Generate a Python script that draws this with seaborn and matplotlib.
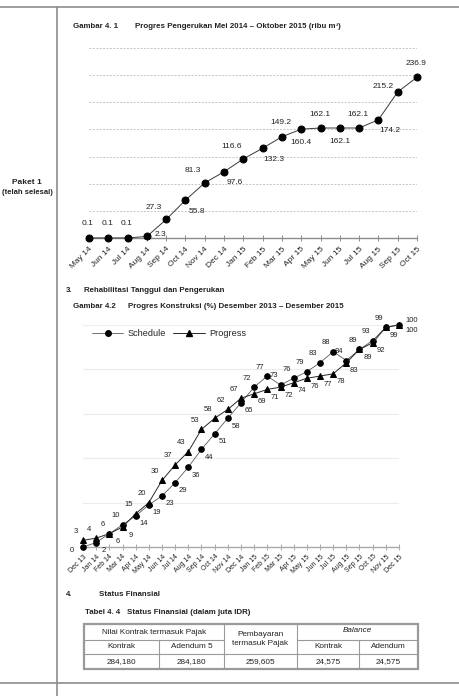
import numpy as np
import pandas as pd
import matplotlib
matplotlib.use("Agg")
import matplotlib.pyplot as plt
import seaborn as sns
from matplotlib.lines import Line2D

# data gambar 4.1 (ribu m3)
bulan_1 = ["May 14", "Jun 14", "Jul 14", "Aug 14", "Sep 14", "Oct 14", "Nov 14", "Dec 14",
           "Jan 15", "Feb 15", "Mar 15", "Apr 15", "May 15", "Jun 15", "Jul 15", "Aug 15",
           "Sep 15", "Oct 15"]
pengerukan = [0.1, 0.1, 0.1, 2.3, 27.3, 55.8, 81.3, 97.6, 116.6, 132.3, 149.2, 160.4,
              162.1, 162.1, 162.1, 174.2, 215.2, 236.9]

# data gambar 4.2 (%)
bulan_2 = ["Dec 13", "Jan 14", "Feb 14", "Mar 14", "Apr 14", "May 14", "Jun 14", "Jul 14",
           "Aug 14", "Sep 14", "Oct 14", "Nov 14", "Dec 14", "Jan 15", "Feb 15", "Mar 15",
           "Apr 15", "May 15", "Jun 15", "Jul 15", "Aug 15", "Sep 15", "Oct 15", "Nov 15",
           "Dec 15"]
schedule = [0, 2, 6, 10, 14, 19, 23, 29, 36, 44, 51, 58, 65, 72, 77, 73, 76, 79, 83, 88,
            84, 89, 93, 99, 100]
progress = [3, 4, 6, 9, 15, 20, 30, 37, 43, 53, 58, 62, 67, 69, 71, 72, 74, 76, 77, 78,
            83, 89, 92, 99, 100]

# tabel 4.4
kol_header = ["Kontrak", "Adendum 5", "Kontrak", "Adendum"]
nilai_tabel = ["284,180", "284,180", "259,605", "24,575", "24,575"]

# placering af labels i graf 1
pos1 = ["t", "t", "t", "r", "tl", "br", "tl", "br", "tl", "br", "t", "b", "t", "b", "t",
        "br", "l", "t"]
off_px = {"t": (-1, 14), "b": (0, -13), "tl": (-12, 12), "br": (11, -11),
          "r": (14, 2), "l": (-15, 5)}

W, H = 460, 696
sns.set_theme(style="white")
plt.rcParams["font.family"] = ["Liberation Sans Narrow", "Liberation Sans", "DejaVu Sans"]
txt = "#222222"
grå = "#8c8c8c"

fig = plt.figure(figsize=(W / 100, H / 100), dpi=100)

# side-lag i pixel koordinater
side = fig.add_axes([0, 0, 1, 1])
side.set_xlim(0, W)
side.set_ylim(H, 0)
side.axis("off")

side.plot([0, W], [7, 7], color=grå, lw=1.2)
side.plot([57, 57], [7, H], color=grå, lw=1.2)
side.plot([0, W], [683, 683], color=grå, lw=1.2)

side.text(27, 182, "Paket 1", ha="center", va="center", fontsize=6.0, fontweight="bold", color=txt)
side.text(27, 192, "(telah selesai)", ha="center", va="center", fontsize=5.5, fontweight="bold",
          color=txt)

def overskrift(x1, x2, y, a, b, fs=5.7):
    side.text(x1, y, a, ha="left", va="center", fontsize=fs, fontweight="bold", color=txt)
    side.text(x2, y, b, ha="left", va="center", fontsize=fs, fontweight="bold", color=txt)

overskrift(73, 135, 26, "Gambar 4. 1", "Progres Pengerukan Mei 2014 – Oktober 2015 (ribu m³)")
overskrift(66, 84, 291, "3.", "Rehabilitasi Tanggul dan Pengerukan")
overskrift(73, 128, 307, "Gambar 4.2", "Progres Konstruksi (%) Desember 2013 – Desember 2015")
overskrift(66, 99, 595, "4.", "Status Finansial")
overskrift(85, 127, 612, "Tabel 4. 4", "Status Finansial (dalam juta IDR)")

# tabel
tx = [84, 159, 224, 297, 359, 418]
ty = [624, 640, 654, 669]
lc = "#9a9a9a"
side.add_patch(plt.Rectangle((tx[0], ty[0]), tx[-1] - tx[0], ty[-1] - ty[0],
                             fill=False, ec=lc, lw=1.6))
side.plot([tx[0], tx[2]], [ty[1], ty[1]], color=lc, lw=0.8)
side.plot([tx[3], tx[5]], [ty[1], ty[1]], color=lc, lw=0.8)
side.plot([tx[0], tx[5]], [ty[2], ty[2]], color=lc, lw=0.8)
side.plot([tx[1], tx[1]], [ty[1], ty[3]], color=lc, lw=0.8)
side.plot([tx[2], tx[2]], [ty[0], ty[3]], color=lc, lw=0.8)
side.plot([tx[3], tx[3]], [ty[0], ty[3]], color=lc, lw=0.8)
side.plot([tx[4], tx[4]], [ty[1], ty[3]], color=lc, lw=0.8)

fs_t = 5.9
side.text((tx[0] + tx[2]) / 2, 632, "Nilai Kontrak termasuk Pajak", ha="center", va="center",
          fontsize=fs_t, color=txt)
side.text((tx[2] + tx[3]) / 2, 639, "Pembayaran\ntermasuk Pajak", ha="center", va="center",
          fontsize=fs_t, color=txt, linespacing=1.3)
side.text((tx[3] + tx[5]) / 2, 631, "Balance", ha="center", va="center", fontsize=fs_t,
          color=txt, style="italic")
for x, t in zip([(tx[0] + tx[1]) / 2, (tx[1] + tx[2]) / 2, (tx[3] + tx[4]) / 2,
                 (tx[4] + tx[5]) / 2], kol_header):
    side.text(x, 647, t, ha="center", va="center", fontsize=fs_t, color=txt)
for i, t in enumerate(nilai_tabel):
    side.text((tx[i] + tx[i + 1]) / 2, 661.5, t, ha="center", va="center", fontsize=fs_t, color=txt)

def px_ax(x0, x1, ytop, ybot):
    return [x0 / W, 1 - ybot / H, (x1 - x0) / W, (ybot - ytop) / H]

def pt(d):
    return (d[0] * 0.72, d[1] * 0.72)

# graf 1
ax1 = fig.add_axes(px_ax(89, 417, 48, 238))
df1 = pd.DataFrame({"pos": np.arange(len(bulan_1)), "nilai": pengerukan})
sns.lineplot(data=df1, x="pos", y="nilai", ax=ax1, color="#3a3a3a", lw=0.7, marker="o",
             markersize=5, markerfacecolor="black", markeredgecolor="black", clip_on=False,
             zorder=5)
ax1.set_xlim(0, len(bulan_1) - 1)
ax1.set_ylim(0, 280)
ax1.set_yticks(np.arange(40, 281, 40))
ax1.yaxis.grid(True, color="#c4c4c4", lw=0.7, ls=(0, (2, 1.5)))
ax1.tick_params(axis="y", left=False, labelleft=False)
ax1.set_xticks(df1["pos"])
ax1.set_xticklabels(bulan_1, rotation=45, ha="right", rotation_mode="anchor", fontsize=6.0,
                    color=txt)
ax1.tick_params(axis="x", bottom=True, direction="inout", length=5, width=0.7, color=grå,
                pad=3)
for s in ["top", "left", "right"]:
    ax1.spines[s].set_visible(False)
ax1.spines["bottom"].set_color(grå)
ax1.spines["bottom"].set_linewidth(1.0)
ax1.set_xlabel("")
ax1.set_ylabel("")
for i, v in enumerate(pengerukan):
    ax1.annotate(f"{v:.1f}", (i, v), xytext=pt(off_px[pos1[i]]), textcoords="offset points",
                 ha="center", va="center", fontsize=6.0, color=txt, annotation_clip=False)

# graf 2
ax2 = fig.add_axes(px_ax(83, 399, 325, 547))
df2 = pd.DataFrame({"pos": np.arange(len(bulan_2)), "Schedule": schedule, "Progress": progress})
sns.lineplot(data=df2, x="pos", y="Schedule", ax=ax2, color="#5a5a5a", lw=0.6, marker="o",
             markersize=4, markerfacecolor="black", markeredgecolor="black", clip_on=False,
             zorder=5)
sns.lineplot(data=df2, x="pos", y="Progress", ax=ax2, color="#2a2a2a", lw=0.7, marker="^",
             markersize=4.2, markerfacecolor="black", markeredgecolor="black", clip_on=False,
             zorder=6)
ax2.set_xlim(0, len(bulan_2) - 1)
ax2.set_ylim(0, 100)
ax2.set_yticks(np.arange(20, 101, 20))
ax2.yaxis.grid(True, color="#ececec", lw=0.8)
ax2.tick_params(axis="y", left=False, labelleft=False)
ax2.set_xticks(df2["pos"])
ax2.set_xticklabels(bulan_2, rotation=45, ha="right", rotation_mode="anchor", fontsize=5.0,
                    color=txt)
ax2.tick_params(axis="x", bottom=True, direction="inout", length=5, width=0.7, color="#aaaaaa",
                pad=2)
for s in ["top", "left", "right"]:
    ax2.spines[s].set_visible(False)
ax2.spines["bottom"].set_color("#aaaaaa")
ax2.spines["bottom"].set_linewidth(1.0)
ax2.set_xlabel("")
ax2.set_ylabel("")

n2 = len(bulan_2)
for i in range(n2):
    s, p = schedule[i], progress[i]
    if s >= p:
        op, ned = (i, s), (i, p)
    else:
        op, ned = (i, p), (i, s)
    d_op, d_ned = (-7, 9), (8, -8)
    if i == 0:
        d_ned = (-11, -3)
    if i == n2 - 1:
        d_op, d_ned = (13, 4), (13, -6)
    ax2.annotate(f"{op[1]}", op, xytext=pt(d_op), textcoords="offset points", ha="center",
                 va="center", fontsize=5.5, color=txt, annotation_clip=False)
    ax2.annotate(f"{ned[1]}", ned, xytext=pt(d_ned), textcoords="offset points", ha="center",
                 va="center", fontsize=5.5, color=txt, annotation_clip=False)

handles = [
    Line2D([], [], color="#5a5a5a", lw=0.6, marker="o", markersize=4, markerfacecolor="black",
           markeredgecolor="black"),
    Line2D([], [], color="#2a2a2a", lw=0.7, marker="^", markersize=4.2, markerfacecolor="black",
           markeredgecolor="black"),
]
ax2.legend(handles, ["Schedule", "Progress"], loc="center left",
           bbox_to_anchor=(92 / W, 1 - 334 / H), bbox_transform=fig.transFigure, ncol=2,
           frameon=False, fontsize=6.6, handlelength=3.4, handletextpad=0.5, columnspacing=0.8,
           borderaxespad=0, borderpad=0)

fig.savefig("out.png", dpi=100)
